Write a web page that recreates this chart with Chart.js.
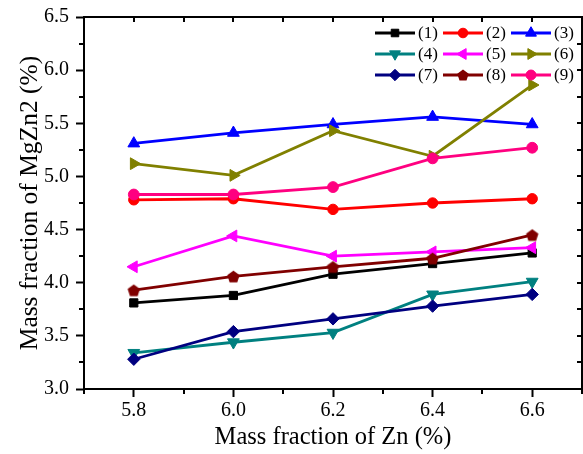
<!DOCTYPE html>
<html>
<head>
<meta charset="utf-8">
<script src="https://cdn.jsdelivr.net/npm/chart.js@4/dist/chart.umd.min.js"></script>
<style>
html,body{margin:0;padding:0;background:#fff;}
#wrap{width:583px;height:454px;position:relative;}
</style>
</head>
<body>
<div id="wrap"><canvas id="c" width="583" height="454"></canvas></div>
<script>
// ---- data ----
const znValues = [5.8, 6.0, 6.2, 6.4, 6.6];
const xTickValues = [5.8, 6.0, 6.2, 6.4, 6.6];
const yTickStep = 0.5;
const seriesLabels = ['(1)', '(2)', '(3)', '(4)', '(5)', '(6)', '(7)', '(8)', '(9)'];
const s1 = [3.81, 3.88, 4.08, 4.18, 4.28];
const s2 = [4.78, 4.79, 4.69, 4.75, 4.79];
const s3 = [5.31, 5.41, 5.49, 5.56, 5.49];
const s4 = [3.34, 3.44, 3.53, 3.89, 4.01];
const s5 = [4.15, 4.44, 4.25, 4.29, 4.33];
const s6 = [5.12, 5.01, 5.43, 5.19, 5.86];
const s7 = [3.28, 3.54, 3.66, 3.78, 3.89];
const s8 = [3.93, 4.06, 4.15, 4.23, 4.45];
const s9 = [4.83, 4.83, 4.90, 5.17, 5.27];
const allSeries = [s1, s2, s3, s4, s5, s6, s7, s8, s9];

// ---- styles ----
const colors = ['#000000', '#FF0000', '#0000FF', '#008080', '#FF00FF', '#808000', '#000080', '#800000', '#FF0080'];
function makePentagon(r, color) {
  const cv = document.createElement('canvas');
  const s = Math.ceil(2 * r + 2);
  cv.width = s; cv.height = s;
  const g = cv.getContext('2d');
  g.fillStyle = color;
  g.beginPath();
  for (let k = 0; k < 5; k++) {
    const a = -Math.PI / 2 + k * 2 * Math.PI / 5;
    const px = s / 2 + r * Math.cos(a), py = s / 2 + r * Math.sin(a) + r * 0.1;
    if (k === 0) g.moveTo(px, py); else g.lineTo(px, py);
  }
  g.closePath(); g.fill();
  return cv;
}
const pent = makePentagon(6.5, colors[7]);
const pentSmall = makePentagon(6, colors[7]);
const styles = [
  {ps: 'rect', rot: 0, r: 5.8},
  {ps: 'circle', rot: 0, r: 5.2},
  {ps: 'triangle', rot: 0, r: 6.8},
  {ps: 'triangle', rot: 180, r: 6.8},
  {ps: 'triangle', rot: 270, r: 6.8},
  {ps: 'triangle', rot: 90, r: 6.8},
  {ps: 'rectRot', rot: 0, r: 6.2},
  {ps: pent, rot: 0, r: 6},
  {ps: 'circle', rot: 0, r: 5.4}
];

const FONT = "'Liberation Serif', 'Times New Roman', serif";

const datasets = allSeries.map((vals, i) => ({
  label: seriesLabels[i],
  data: znValues.map((x, j) => ({x: x, y: vals[j]})),
  borderColor: colors[i],
  backgroundColor: colors[i],
  borderWidth: 2.8,
  pointStyle: styles[i].ps,
  rotation: styles[i].rot,
  pointRadius: styles[i].r,
  pointHoverRadius: styles[i].r,
  pointBorderWidth: 1,
  pointBackgroundColor: colors[i],
  pointBorderColor: colors[i],
  tension: 0,
  clip: false,
  order: 10 - i
}));

function drawMarker(ctx, st, color, x, y) {
  ctx.save();
  ctx.fillStyle = color; ctx.strokeStyle = color; ctx.lineWidth = 1;
  ctx.translate(x, y);
  ctx.rotate(st.rot * Math.PI / 180);
  const r = st.r * 0.92;
  ctx.beginPath();
  if (st.ps === 'rect') {
    const s = r * Math.SQRT1_2; ctx.rect(-s, -s, 2 * s, 2 * s);
  } else if (st.ps === 'circle') {
    ctx.arc(0, 0, r, 0, Math.PI * 2);
  } else if (st.ps === 'triangle') {
    ctx.moveTo(0, -r);
    ctx.lineTo(r * Math.sin(2 * Math.PI / 3), -r * Math.cos(2 * Math.PI / 3));
    ctx.lineTo(r * Math.sin(4 * Math.PI / 3), -r * Math.cos(4 * Math.PI / 3));
    ctx.closePath();
  } else if (st.ps === 'rectRot') {
    ctx.moveTo(-r, 0); ctx.lineTo(0, -r); ctx.lineTo(r, 0); ctx.lineTo(0, r); ctx.closePath();
  } else {
    ctx.restore();
    ctx.drawImage(pentSmall, x - pentSmall.width / 2, y - pentSmall.height / 2);
    return;
  }
  ctx.fill(); ctx.stroke();
  ctx.restore();
}

const framePlugin = {
  id: 'frame',
  beforeDraw(chart) {
    const ctx = chart.ctx;
    ctx.save();
    ctx.fillStyle = '#fff';
    ctx.fillRect(0, 0, chart.width, chart.height);
    ctx.restore();
  },
  afterDraw(chart) {
    const ctx = chart.ctx;
    const a = chart.chartArea;
    const xs = chart.scales.x, ys = chart.scales.y;
    ctx.save();
    ctx.strokeStyle = '#000';
    ctx.lineWidth = 2;
    ctx.strokeRect(a.left, a.top, a.right - a.left, a.bottom - a.top);
    ctx.beginPath();
    for (let v = 5.7; v <= 6.7001; v += 0.1) {
      const px = Math.round(xs.getPixelForValue(v));
      const isMajor = Math.abs(Math.round(v * 10) % 2) === 0;
      if (!isMajor) { ctx.moveTo(px, a.bottom); ctx.lineTo(px, a.bottom + 5); }
      ctx.moveTo(px, a.top); ctx.lineTo(px, a.top + 5);
    }
    for (let v = 3.0; v <= 6.5001; v += 0.25) {
      const py = Math.round(ys.getPixelForValue(v));
      const isMajor = Math.abs(Math.round(v * 100) % 50) === 0;
      if (!isMajor) { ctx.moveTo(a.left, py); ctx.lineTo(a.left - 5, py); }
      ctx.moveTo(a.right, py); ctx.lineTo(a.right - 5, py);
    }
    ctx.stroke();
    // legend
    const rowsY = [33, 54, 75];
    const colsX = [375, 443, 511];
    ctx.font = '17px ' + FONT;
    ctx.textBaseline = 'middle';
    ctx.textAlign = 'left';
    chart.data.datasets.forEach((ds, i) => {
      const x0 = colsX[i % 3], y0 = rowsY[Math.floor(i / 3)];
      ctx.strokeStyle = ds.borderColor;
      ctx.lineWidth = 2.8;
      ctx.beginPath(); ctx.moveTo(x0, y0); ctx.lineTo(x0 + 40, y0); ctx.stroke();
      drawMarker(ctx, styles[i], ds.borderColor, x0 + 20, y0);
      ctx.fillStyle = '#000';
      ctx.fillText(ds.label, x0 + 43, y0 + 1);
    });
    ctx.restore();
  }
};

new Chart(document.getElementById('c'), {
  type: 'line',
  data: {datasets: datasets},
  plugins: [framePlugin],
  options: {
    responsive: false,
    animation: false,
    layout: {autoPadding: false, padding: {top: 17, right: 1, left: 0, bottom: 0}},
    plugins: {legend: {display: false}, tooltip: {enabled: false}},
    scales: {
      x: {
        type: 'linear',
        min: 5.7, max: 6.7,
        afterBuildTicks(scale) { scale.ticks = xTickValues.map(v => ({value: v})); },
        afterFit(scale) { scale.height = 65; scale.paddingRight = 0; scale.paddingLeft = 0; },
        border: {display: false},
        grid: {display: true, drawOnChartArea: false, drawTicks: true, tickLength: 8, tickColor: '#000', tickWidth: 2},
        ticks: {color: '#000', padding: 2, font: {family: FONT, size: 20}, callback: v => Number(v).toFixed(1), maxRotation: 0},
        title: {display: true, text: 'Mass fraction of Zn (%)', color: '#000', font: {family: FONT, size: 24.5}, padding: {top: 0, bottom: 2}}
      },
      y: {
        type: 'linear',
        min: 3.0, max: 6.5,
        ticks: {stepSize: yTickStep, color: '#000', padding: 7, font: {family: FONT, size: 20}, callback: v => Number(v).toFixed(1)},
        afterFit(scale) { scale.width = 84; scale.paddingTop = 0; scale.paddingBottom = 0; },
        border: {display: false},
        grid: {display: true, drawOnChartArea: false, drawTicks: true, tickLength: 8, tickColor: '#000', tickWidth: 2},
        title: {display: true, text: 'Mass fraction of MgZn2 (%)', color: '#000', font: {family: FONT, size: 25.5}, padding: {top: 15, bottom: 0}}
      }
    }
  }
});
</script>
</body>
</html>
